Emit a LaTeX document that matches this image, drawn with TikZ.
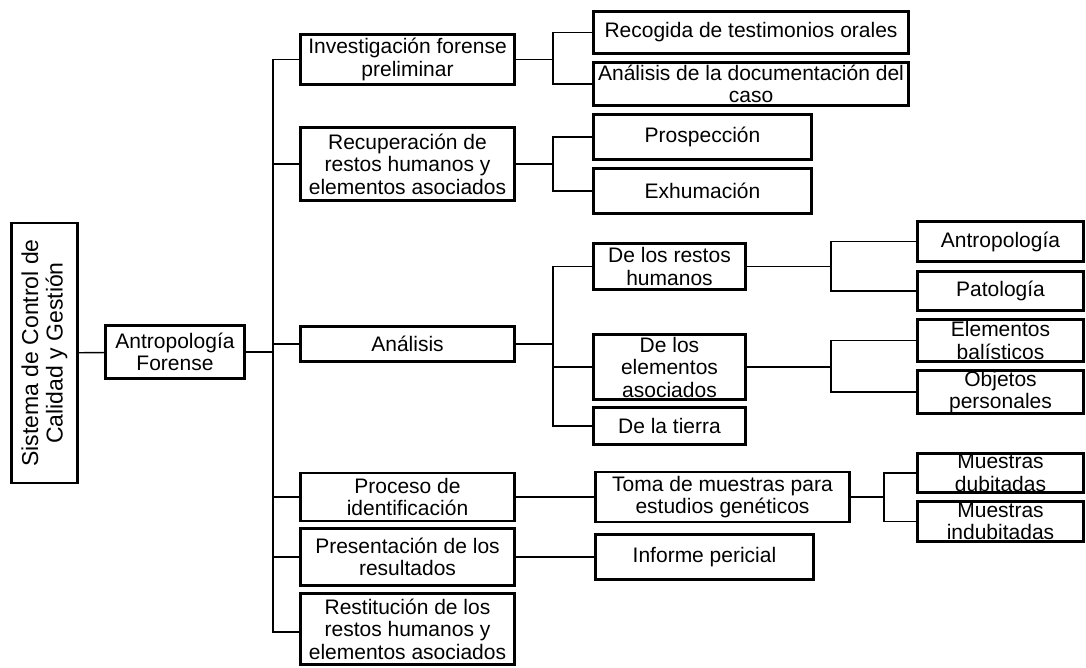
\documentclass[tikz,border=0pt]{standalone}
\usepackage{fontspec}
\setmainfont{Liberation Sans}
\begin{document}
\begin{tikzpicture}[x=1pt,y=-1pt,
  box/.style={draw, line width=2.8pt, inner sep=0pt, align=center, font=\fontsize{21}{22.5}\selectfont},
  con/.style={line width=1.4pt},
  thk/.style={line width=2.6pt}]
\useasboundingbox (0,0) rectangle (1086,668);
% level 0 and 1
\node[box, rotate=90, minimum width=260, minimum height=66, font=\fontsize{23}{24.5}\selectfont] (sis) at (44.5,353) {Sistema de Control de\\Calidad y Gestión};
\node[box, minimum width=139, minimum height=53] (af) at (175,352) {Antropología\\Forense};
% level 2
\node[box, minimum width=214, minimum height=50] (inv) at (407.5,59.5) {Investigación forense\\preliminar};
\node[box, minimum width=214, minimum height=73] (rec) at (407.5,164) {Recuperación de\\restos humanos y\\elementos asociados};
\node[box, minimum width=214, minimum height=35] (ana) at (407.5,344) {Análisis};
\node[box, minimum width=214, minimum height=48] (pro) at (407.5,497) {Proceso de\\identificación};
\node[box, minimum width=214, minimum height=57] (pre) at (407.5,557) {Presentación de los\\resultados};
\node[box, minimum width=214, minimum height=71] (res) at (407.5,629) {Restitución de los\\restos humanos y\\elementos asociados};
% level 3
\node[box, minimum width=315, minimum height=42] (rog) at (751,32.5) {Recogida de testimonios orales};
\node[box, minimum width=315, minimum height=43] (doc) at (751,84) {Análisis de la documentación del\\caso};
\node[box, minimum width=218, minimum height=45] (pros) at (702.5,137) {Prospección};
\node[box, minimum width=218, minimum height=45] (exh) at (702.5,191) {Exhumación};
\node[box, minimum width=152, minimum height=46] (drh) at (669.5,266.5) {De los restos\\humanos};
\node[box, minimum width=152, minimum height=65] (dea) at (669.5,367) {De los\\elementos\\asociados};
\node[box, minimum width=152, minimum height=37] (dlt) at (669.5,426) {De la tierra};
\node[box, minimum width=254, minimum height=50] (toma) at (722.5,497) {Toma de muestras para\\estudios genéticos};
\node[box, minimum width=218, minimum height=45] (inf) at (704.5,557) {Informe pericial};
% level 4
\node[box, minimum width=166, minimum height=40] (antr) at (1000.5,241.5) {Antropología};
\node[box, minimum width=166, minimum height=39] (pat) at (1000.5,291) {Patología};
\node[box, minimum width=166, minimum height=42] (eb) at (1000.5,340.5) {Elementos\\balísticos};
\node[box, minimum width=166, minimum height=43] (op) at (1000.5,392) {Objetos\\personales};
\node[box, minimum width=166, minimum height=39] (md) at (1000.5,473) {Muestras\\dubitadas};
\node[box, minimum width=166, minimum height=40] (mi) at (1000.5,521.5) {Muestras\\indubitadas};
% connectors
\draw[con] (sis) -- (af);
\coordinate (bus) at (273,352);
\draw[thk] (af.east) -- (bus);
\draw[con] (bus) |- (inv.west);
\draw[con] (bus) |- (rec.west);
\draw[con] (bus) |- (ana.west);
\draw[con] (bus) |- (pro.west);
\draw[con] (bus) |- (pre.west);
\draw[con] (bus) |- ([yshift=-3pt]res.west);
\coordinate (j1) at (553,59.5);
\draw[con] (inv.east) -- (j1);
\draw[con] (j1) |- (rog.west);
\draw[con] (j1) |- (doc.west);
\coordinate (j2) at (553,164);
\draw[con] (rec.east) -- (j2);
\draw[con] (j2) |- (pros.west);
\draw[con] (j2) |- (exh.west);
\coordinate (j3) at (553,344);
\draw[thk] (ana.east) -- (j3);
\draw[con] (j3) |- (drh.west);
\draw[con] (j3) |- (dea.west);
\draw[thk] (j3) |- (dlt.west);
\coordinate (j4) at (831,266.5);
\draw[con] (drh.east) -- (j4);
\draw[con] (j4) |- (antr.west);
\draw[con] (j4) |- (pat.west);
\coordinate (j5) at (831,367);
\draw[con] (dea.east) -- (j5);
\draw[con] (j5) |- (eb.west);
\draw[con] (j5) |- (op.west);
\draw[con] (pro) -- (toma);
\coordinate (j6) at (884,497);
\draw[con] (toma.east) -- (j6);
\draw[con] (j6) |- (md.west);
\draw[con] (j6) |- (mi.west);
\draw[con] (pre) -- (inf);
\end{tikzpicture}
\end{document}
